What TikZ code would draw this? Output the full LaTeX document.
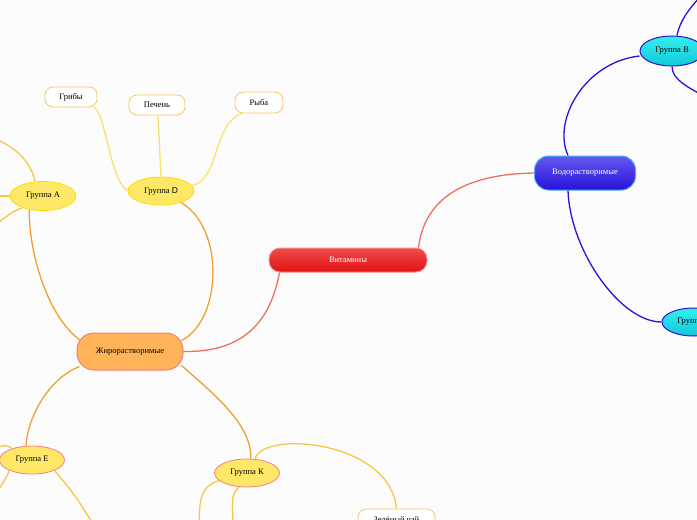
\documentclass[tikz,border=0pt]{standalone}
\usepackage{fontspec}
\setmainfont{Liberation Serif}
\newfontfamily\latinsans{Liberation Sans}
\usetikzlibrary{shapes.geometric}
\definecolor{bgcol}{HTML}{FCFCFC}
\definecolor{redline}{HTML}{F07060}
\definecolor{blueline}{HTML}{2A12D8}
\definecolor{orangeline}{HTML}{F0A030}
\definecolor{yellowline}{HTML}{F5C848}
\definecolor{paleline}{HTML}{FBE070}
\definecolor{groupfill}{HTML}{FFE868}
\definecolor{vittop}{HTML}{F04A4A}
\definecolor{vitbottom}{HTML}{E01212}
\definecolor{vitborder}{HTML}{F49090}
\definecolor{watertop}{HTML}{6458F0}
\definecolor{waterbottom}{HTML}{2612D8}
\definecolor{waterborder}{HTML}{48B0F0}
\definecolor{cyantop}{HTML}{34F0F0}
\definecolor{cyanbottom}{HTML}{12C8D8}
\definecolor{fatfill}{HTML}{FFB45A}
\definecolor{pinkborder}{HTML}{F08080}
\definecolor{leafborder}{HTML}{F5C860}
\tikzset{rootbox/.style = {shape=rectangle,rounded corners=11pt,draw=vitborder,line width=1pt,top color=vittop,bottom color=vitbottom,text=white,minimum width=158pt,minimum height=24pt,font=\fontsize{8.5}{10}\selectfont}}
\tikzset{waterbox/.style = {shape=rectangle,rounded corners=14pt,draw=waterborder,line width=1pt,top color=watertop,bottom color=waterbottom,text=white,minimum width=101pt,minimum height=34pt,font=\fontsize{8.5}{10}\selectfont}}
\tikzset{fatbox/.style = {shape=rectangle,rounded corners=17pt,draw=pinkborder,line width=1pt,fill=fatfill,minimum width=106pt,minimum height=37pt,font=\fontsize{8.5}{10}\selectfont}}
\tikzset{cyangroup/.style = {shape=ellipse,draw=blueline,line width=1pt,top color=cyantop,bottom color=cyanbottom,minimum width=64pt,minimum height=29pt,inner sep=0pt,font=\fontsize{8.5}{10}\selectfont}}
\tikzset{yellowgroup/.style = {shape=ellipse,draw=yellow!80!orange,line width=0.8pt,fill=groupfill,minimum width=66pt,minimum height=29pt,inner sep=0pt,font=\fontsize{8.5}{10}\selectfont}}
\tikzset{pinkgroup/.style = {yellowgroup,draw=pinkborder}}
\tikzset{leaf/.style = {shape=rectangle,rounded corners=8pt,draw=leafborder,line width=0.8pt,fill=white,minimum height=20pt,inner sep=0pt,font=\fontsize{8.5}{10}\selectfont}}
\tikzset{edge/.style = {line width=1.3pt}}

\begin{document}
\begin{tikzpicture}[x=1pt,y=-1pt]
		\useasboundingbox (0,0) rectangle (697,520);
		\clip (0,0) rectangle (697,520);
		\fill[bgcol] (0,0) rectangle (697,520);

		% vertices
		\node[rootbox] (vit) at (348,260) {Витамины};
		\node[waterbox] (water) at (585,173) {Водорастворимые};
		\node[fatbox] (fat) at (130,351.5) {Жирорастворимые};
		\node[cyangroup,minimum height=30pt] (grB) at (672,51) {Группа В};
		\node[cyangroup,minimum height=28pt] (grC) at (694,322) {Группа С};
		\node[yellowgroup] (grA) at (43,196) {Группа А};
		\node[yellowgroup,minimum height=28pt] (grD) at (161,191) {Группа {\latinsans D}};
		\node[pinkgroup,minimum width=65pt,minimum height=28pt] (grE) at (32,460) {Группа Е};
		\node[pinkgroup,minimum width=65pt,minimum height=28pt] (grK) at (247,473) {Группа К};
		\node[leaf,minimum width=52pt] (fungi) at (71,97) {Грибы};
		\node[leaf,minimum width=56pt] (liver) at (157,105) {Печень};
		\node[leaf,minimum width=48pt,minimum height=21pt] (fish) at (259,102.5) {Рыба};
		\node[leaf,minimum width=77pt,minimum height=22pt] (tea) at (396.5,520) {Зелёный чай};

		% loose ends
		\coordinate (bOut1) at (700,-3);
		\coordinate (bOut2) at (700,94);
		\coordinate (aOut1) at (-2,140);
		\coordinate (aOut2) at (-2,196);
		\coordinate (aOut3) at (-2,223);
		\coordinate (eOut1) at (-2,447);
		\coordinate (eOut2) at (-2,491);
		\coordinate (eOut3) at (93,524);
		\coordinate (kOut1) at (199,524);
		\coordinate (kOut2) at (233,524);

		%edges
		\draw[edge,redline] ([xshift=-9pt]vit.north east) .. controls (425,195) and (470,174) .. (water.west);
		\draw[edge,redline] ([xshift=11pt]vit.south west) .. controls (268,335) and (230,352) .. (fat.east);

		\draw[edge,blueline] ([xshift=-17pt]water.north) .. controls (552,120) and (585,62) .. ([yshift=-5pt]grB.west);
		\draw[edge,blueline] ([xshift=-17pt]water.south) .. controls (570,250) and (620,322) .. (grC.west);
		\draw[edge,blueline] ([xshift=5pt]grB.north) .. controls (680,20) and (690,8) .. (bOut1);
		\draw[edge,blueline] (grB.south) .. controls (672,80) and (690,88) .. (bOut2);

		\draw[edge,orangeline] ([shift={(4pt,-8pt)}]fat.north west) .. controls (45,315) and (28,245) .. (grA.-135);
		\draw[edge,orangeline] ([shift={(-2pt,-8pt)}]fat.north east) .. controls (222,320) and (225,228) .. (grD.-30);
		\draw[edge,orangeline] ([shift={(3pt,4pt)}]fat.south west) .. controls (50,378) and (28,415) .. ([xshift=-6pt]grE.north);
		\draw[edge,orangeline] ([shift={(-2pt,5pt)}]fat.south east) .. controls (215,395) and (252,425) .. (grK.75);

		\draw[edge,yellowline] ([xshift=-8pt]grA.north) .. controls (30,160) and (15,148) .. (aOut1);
		\draw[edge,yellowline] (grA.west) -- (aOut2);
		\draw[edge,yellowline] (grA.-150) .. controls (12,212) .. (aOut3);

		\draw[edge,paleline] (grD.west) .. controls (110,180) and (106,115) .. ([xshift=-3pt]fungi.south east);
		\draw[edge,paleline] (grD.north) -- ([xshift=1pt]liver.south);
		\draw[edge,paleline] (grD.10) .. controls (220,180) and (212,125) .. ([xshift=7pt]fish.south west);

		\draw[edge,yellowline] (grE.150) .. controls (6,445) .. (eOut1);
		\draw[edge,yellowline] (grE.-155) .. controls (6,478) .. (eOut2);
		\draw[edge,yellowline] (grE.-25) .. controls (75,495) .. (eOut3);

		\draw[edge,yellowline] (grK.60) .. controls (262,430) and (390,440) .. (tea.north);
		\draw[edge,yellowline] (grK.-165) .. controls (198,487) and (200,505) .. (kOut1);
		\draw[edge,yellowline] (grK.-120) .. controls (232,495) .. (kOut2);
	\end{tikzpicture}
\end{document}
